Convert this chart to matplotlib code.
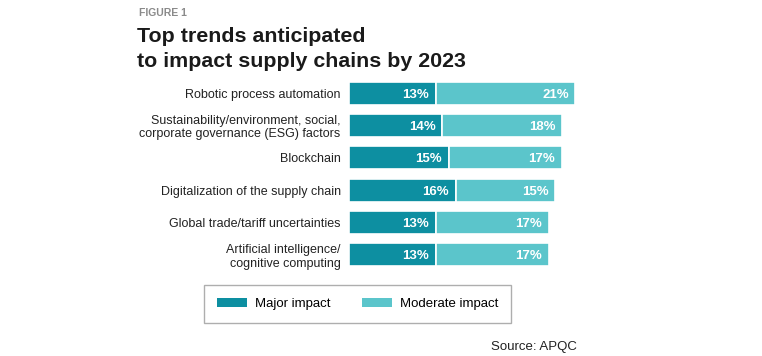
import numpy as np
import matplotlib.pyplot as plt
from matplotlib.patches import Patch

plt.rcParams['font.family'] = ['Liberation Sans', 'DejaVu Sans']

# Data
trends = ['Robotic process automation',
          'Sustainability/environment, social,\ncorporate governance (ESG) factors',
          'Blockchain',
          'Digitalization of the supply chain',
          'Global trade/tariff uncertainties',
          'Artificial intelligence/\ncognitive computing']
major = [13, 14, 15, 16, 13, 13]
moderate = [21, 18, 17, 15, 17, 17]

c_major = '#0d8fa1'
c_moderate = '#5bc5cb'

fig = plt.figure(figsize=(7.62, 3.56), dpi=100)
ax = fig.add_axes([349/762, 1-271/356, 231/762, 194/356])

y = np.arange(len(trends))
bh = 0.72
ax.barh(y, major, height=bh, color=c_major, edgecolor='white', linewidth=1.2)
ax.barh(y, moderate, left=major, height=bh, color=c_moderate, edgecolor='white', linewidth=1.2)

for i in range(len(trends)):
    ax.text(major[i] - 1.0, y[i], '%d%%' % major[i], ha='right', va='center_baseline',
            color='white', fontsize=9.5, fontweight='bold')
    ax.text(major[i] + moderate[i] - 1.0, y[i], '%d%%' % moderate[i], ha='right', va='center_baseline',
            color='white', fontsize=9.5, fontweight='bold')

ax.set_xlim(0, 34.7)
ax.set_ylim(5.5, -0.5)
ax.set_yticks(y)
ax.set_yticklabels(trends, fontsize=9, color='#222222', linespacing=1.15)
ax.set_xticks([])
ax.tick_params(axis='y', length=0, pad=6)
for s in ax.spines.values():
    s.set_visible(False)

# Title block
fig.text(139/762, 1-13/356, 'FIGURE 1', fontsize=7.5, fontweight='bold', color='#8a8a8a', va='center')
fig.text(137/762, 1-49/356, 'Top trends anticipated\nto impact supply chains by 2023',
         fontsize=15.4, fontweight='bold', color='#1a1a1a', va='center', linespacing=1.4)

# Legend
handles = [Patch(facecolor=c_major, label='Major impact'),
           Patch(facecolor=c_moderate, label='Moderate impact')]
leg = fig.legend(handles=handles, loc='center', bbox_to_anchor=(357.5/762, 1-304/356),
                 ncol=2, fontsize=9.5, frameon=True, fancybox=False, edgecolor='#9a9a9a',
                 handlelength=2.3, handleheight=0.6, columnspacing=2.4, handletextpad=0.55,
                 borderpad=1.0, borderaxespad=0)
leg.get_frame().set_linewidth(1.0)

fig.text(577/762, 1-347/356, 'Source: APQC', fontsize=9.5, color='#222222', ha='right', va='center')

plt.savefig('out.png', dpi=100)
